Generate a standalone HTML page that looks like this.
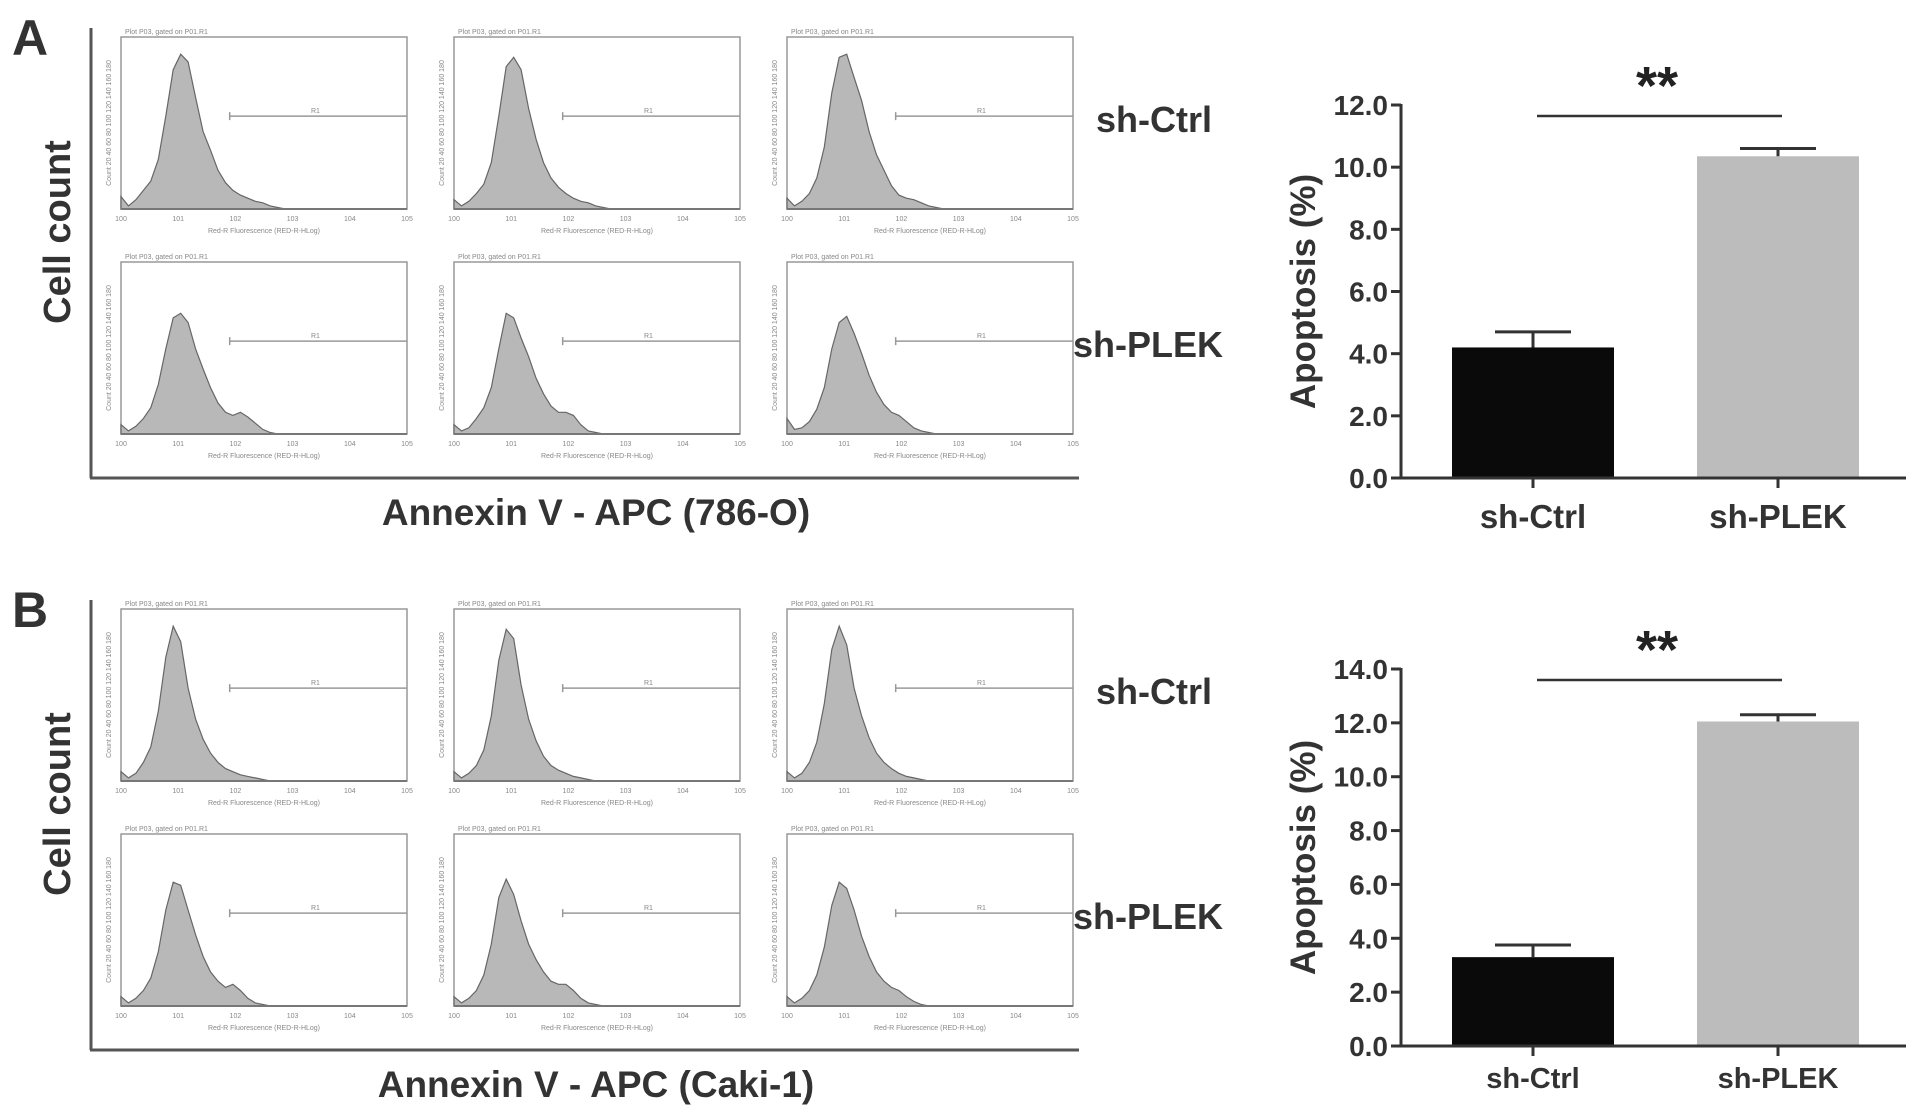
<!DOCTYPE html>
<html><head><meta charset="utf-8"><style>
html,body{margin:0;padding:0;background:#fff;}
svg{display:block;font-family:"Liberation Sans",Arial,sans-serif;}
</style></head>
<body>
<svg id="fig" width="1913" height="1115" viewBox="0 0 1913 1115" xmlns="http://www.w3.org/2000/svg"></svg>
<script>
// ---- Bar chart data ----
const barCategories = ['sh-Ctrl', 'sh-PLEK'];
const barValuesA = [4.2, 10.35];
const barErrorsA = [0.5, 0.25];
const barValuesB = [3.3, 12.05];
const barErrorsB = [0.45, 0.25];
const yTicksA = [0, 2, 4, 6, 8, 10, 12];
const yTicksB = [0, 2, 4, 6, 8, 10, 12, 14];
const xTickLabels = ['10^0', '10^1', '10^2', '10^3', '10^4', '10^5'];
// ---- Histogram data (relative counts, bins over log10 0..3) ----
const histA1 = [0.08,0.02,0.06,0.12,0.18,0.32,0.6,0.9,1.0,0.95,0.72,0.5,0.38,0.25,0.17,0.12,0.09,0.07,0.05,0.04,0.02,0.01,0,0];
const histA2 = [0.06,0.02,0.05,0.1,0.16,0.3,0.6,0.92,0.98,0.9,0.65,0.45,0.3,0.2,0.14,0.1,0.07,0.05,0.04,0.02,0.01,0,0,0];
const histA3 = [0.07,0.02,0.05,0.1,0.2,0.4,0.75,0.98,1.0,0.85,0.7,0.5,0.35,0.25,0.15,0.09,0.07,0.06,0.04,0.02,0.01,0,0,0];
const histA4 = [0.06,0.02,0.05,0.1,0.17,0.32,0.55,0.75,0.78,0.72,0.55,0.42,0.3,0.2,0.14,0.12,0.14,0.11,0.07,0.03,0.01,0,0,0];
const histA5 = [0.06,0.02,0.04,0.1,0.17,0.3,0.55,0.78,0.75,0.62,0.5,0.36,0.26,0.18,0.14,0.14,0.12,0.06,0.02,0.01,0,0,0,0];
const histA6 = [0.1,0.03,0.04,0.08,0.16,0.3,0.55,0.72,0.76,0.65,0.52,0.38,0.27,0.19,0.14,0.12,0.08,0.04,0.02,0.01,0,0,0,0];
const histB1 = [0.06,0.02,0.05,0.12,0.22,0.45,0.8,1.0,0.9,0.6,0.4,0.27,0.18,0.12,0.08,0.06,0.04,0.03,0.02,0.01,0,0,0,0];
const histB2 = [0.06,0.02,0.05,0.1,0.2,0.42,0.78,0.98,0.92,0.62,0.4,0.26,0.16,0.1,0.07,0.05,0.03,0.02,0.01,0,0,0,0,0];
const histB3 = [0.06,0.02,0.05,0.12,0.25,0.5,0.85,1.0,0.88,0.6,0.42,0.28,0.18,0.12,0.08,0.05,0.03,0.02,0.01,0,0,0,0,0];
const histB4 = [0.06,0.02,0.05,0.1,0.18,0.35,0.62,0.8,0.78,0.62,0.46,0.32,0.22,0.16,0.12,0.14,0.1,0.05,0.02,0.01,0,0,0,0];
const histB5 = [0.06,0.02,0.05,0.1,0.2,0.4,0.7,0.82,0.72,0.55,0.4,0.3,0.22,0.16,0.14,0.14,0.1,0.05,0.02,0.01,0,0,0,0];
const histB6 = [0.06,0.02,0.05,0.1,0.2,0.38,0.65,0.8,0.76,0.62,0.45,0.32,0.22,0.16,0.12,0.1,0.06,0.03,0.01,0,0,0,0,0];

const NS = 'http://www.w3.org/2000/svg';
const svg = document.getElementById('fig');
function mk(tag, attrs, parent, text) {
  const e = document.createElementNS(NS, tag);
  for (const k in attrs) e.setAttribute(k, attrs[k]);
  if (text !== undefined) e.textContent = text;
  (parent || svg).appendChild(e);
  return e;
}

function histogram(g, left, top, w, h, data, name) {
  const box = mk('g', {}, g);
  
  
  mk('text', {x: left + 4, y: top - 3, 'font-size': 7, fill: '#888'}, box, 'Plot P03, gated on P01.R1');
  mk('rect', {x: left, y: top, width: w, height: h, fill: 'none', stroke: '#999', 'stroke-width': 1.5}, box);
  const xs = v => left + (v / 5) * w;
  const ys = v => top + h - v * h * 0.9;
  let d = 'M' + xs(0) + ' ' + ys(0);
  data.forEach((v, i) => { d += ' L' + xs(i * 3 / (data.length - 1)).toFixed(1) + ' ' + ys(v).toFixed(1); });
  d += ' L' + xs(3) + ' ' + ys(0) + ' Z';
  const p = mk('path', {d: d, fill: '#b8b8b8', stroke: '#666', 'stroke-width': 1.2}, box);
  
  
  mk('line', {x1: left, y1: top + h, x2: left + w, y2: top + h, stroke: '#777', 'stroke-width': 2}, box);
  xTickLabels.forEach((t, i) => {
    mk('text', {x: xs(i), y: top + h + 12, 'font-size': 7, fill: '#888', 'text-anchor': 'middle'}, box, t.replace('^', ''));
  });
  mk('text', {x: left + w / 2, y: top + h + 24, 'font-size': 7, fill: '#888', 'text-anchor': 'middle'}, box, 'Red-R Fluorescence (RED-R-HLog)');
  mk('text', {x: left - 10, y: top + h / 2, 'font-size': 7, fill: '#888', 'text-anchor': 'middle', transform: 'rotate(-90 ' + (left - 10) + ' ' + (top + h / 2) + ')'}, box, 'Count  20  40  60  80  100  120  140  160  180');
  // gate
  const gy = top + h * 0.46;
  mk('line', {x1: xs(1.9), y1: gy, x2: left + w, y2: gy, stroke: '#999', 'stroke-width': 1.5}, box);
  mk('line', {x1: xs(1.9), y1: gy - 4, x2: xs(1.9), y2: gy + 4, stroke: '#999', 'stroke-width': 1.5}, box);
  mk('text', {x: xs(3.4), y: gy - 3, 'font-size': 7, fill: '#888', 'text-anchor': 'middle'}, box, 'R1');
}

function leftPanel(dy, letter, caption, hists, nameSuffix) {
  const g = mk('g', {});
  
  
  const lt = mk('text', {x: 12, y: 55 + dy, 'font-size': 50, 'font-weight': 'bold', fill: '#333'}, g, letter);
  
  
  mk('line', {x1: 91, y1: 28 + dy, x2: 91, y2: 478 + dy, stroke: '#555', 'stroke-width': 3}, g);
  mk('line', {x1: 90, y1: 478 + dy, x2: 1079, y2: 478 + dy, stroke: '#555', 'stroke-width': 3}, g);
  const cc = mk('text', {x: 0, y: 0, 'font-size': 38, 'font-weight': 'bold', fill: '#333', 'text-anchor': 'middle', transform: 'translate(70 ' + (232 + dy) + ') rotate(-90)'}, g, 'Cell count');
  
  
  const lefts = [121, 454, 787];
  const tops = [37, 262];
  hists.forEach((h, i) => {
    histogram(g, lefts[i % 3], tops[Math.floor(i / 3)] + dy, 286, i < 3 ? 172 : 172, h, 'histogram-' + nameSuffix + '-' + (i + 1));
  });
  const s1 = mk('text', {x: 1096, y: 132 + dy, 'font-size': 36, 'font-weight': 'bold', fill: '#333'}, g, 'sh-Ctrl');
  
  
  const s2 = mk('text', {x: 1073, y: 357 + dy, 'font-size': 36, 'font-weight': 'bold', fill: '#333'}, g, 'sh-PLEK');
  
  
  const cap = mk('text', {x: 596, y: 525 + dy, 'font-size': 37, 'font-weight': 'bold', fill: '#333', 'text-anchor': 'middle'}, g, caption);
  
  
}

function barChart(zeroY, topY, yMax, ticks, vals, errs, nameSuffix, labelFont) {
  const g = mk('g', {});
  
  
  const axX = 1401;
  const ys = v => zeroY - (v / yMax) * (zeroY - topY);
  const centers = [1533, 1778];
  const bw = 162;
  const colors = ['#0a0a0a', '#bcbcbc'];
  vals.forEach((v, i) => {
    const r = mk('rect', {x: centers[i] - bw / 2, y: ys(v), width: bw, height: zeroY - ys(v), fill: colors[i]}, g);
    
    
    const e = mk('path', {d: 'M' + centers[i] + ' ' + ys(v) + ' V' + ys(v + errs[i]) + ' M' + (centers[i] - 38) + ' ' + ys(v + errs[i]) + ' H' + (centers[i] + 38), stroke: '#333', 'stroke-width': 3, fill: 'none'}, g);
    
    
    mk('line', {x1: centers[i], y1: zeroY, x2: centers[i], y2: zeroY + 10, stroke: '#333', 'stroke-width': 3}, g);
    const lb = mk('text', {x: centers[i], y: zeroY + (labelFont > 30 ? 50 : 42), 'font-size': labelFont, 'font-weight': 'bold', fill: '#333', 'text-anchor': 'middle'}, g, barCategories[i]);
    
    
  });
  mk('line', {x1: axX, y1: zeroY, x2: axX, y2: ys(yMax) - 1, stroke: '#333', 'stroke-width': 3}, g);
  mk('line', {x1: axX - 10, y1: zeroY, x2: 1906, y2: zeroY, stroke: '#333', 'stroke-width': 3}, g);
  ticks.forEach(t => {
    mk('line', {x1: axX - 10, y1: ys(t), x2: axX, y2: ys(t), stroke: '#333', 'stroke-width': 3}, g);
    const tl = mk('text', {x: axX - 13, y: ys(t) + 10, 'font-size': 28, 'font-weight': 'bold', fill: '#333', 'text-anchor': 'end'}, g, t.toFixed(1));
    
    
  });
  const yt = mk('text', {x: 0, y: 0, 'font-size': 35, 'font-weight': 'bold', fill: '#333', 'text-anchor': 'middle', transform: 'translate(1315 ' + ((zeroY + ys(yMax)) / 2) + ') rotate(-90)'}, g, 'Apoptosis (%)');
  
  
  const sigY = ys(yMax) + 11;
  const sl = mk('line', {x1: 1537, y1: sigY, x2: 1782, y2: sigY, stroke: '#333', 'stroke-width': 2.5}, g);
  
  
  const st = mk('text', {x: 1657, y: sigY - 12, 'font-size': 54, 'font-weight': 'bold', fill: '#222', 'text-anchor': 'middle'}, g, '**');
  
  
}

leftPanel(0, 'A', 'Annexin V - APC (786-O)', [histA1, histA2, histA3, histA4, histA5, histA6], 'a');
leftPanel(572, 'B', 'Annexin V - APC (Caki-1)', [histB1, histB2, histB3, histB4, histB5, histB6], 'b');
barChart(478, 105, 12, yTicksA, barValuesA, barErrorsA, 'a', 33);
barChart(1046, 669, 14, yTicksB, barValuesB, barErrorsB, 'b', 29);
</script>
</body></html>
